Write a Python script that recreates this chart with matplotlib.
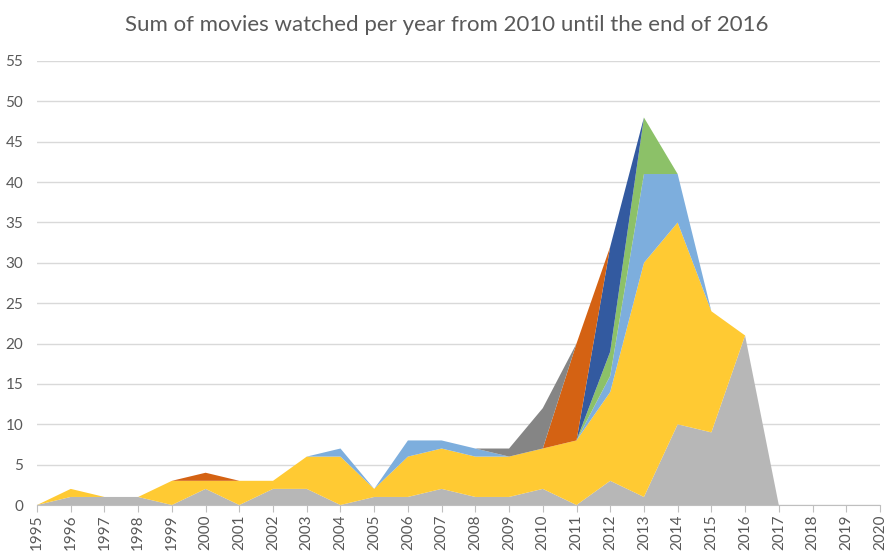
import numpy as np
import matplotlib.pyplot as plt

plt.rcParams['font.family'] = ['Lato', 'DejaVu Sans']

# release year on the x axis, one stacked layer per series (bottom to top)
years = list(range(1995, 2021))

gray_layer   = [0, 1, 1, 1, 0, 2, 0, 2, 2, 0, 1, 1, 2, 1, 1, 2, 0, 3, 1, 10, 9, 21, 0, 0, 0, 0]
yellow_layer = [0, 1, 0, 0, 3, 1, 3, 1, 4, 6, 1, 5, 5, 5, 5, 5, 8, 11, 29, 25, 15, 0, 0, 0, 0, 0]
ltblue_layer = [0, 0, 0, 0, 0, 0, 0, 0, 0, 1, 0, 2, 1, 1, 0, 0, 0, 2, 11, 6, 0, 0, 0, 0, 0, 0]
green_layer  = [0, 0, 0, 0, 0, 0, 0, 0, 0, 0, 0, 0, 0, 0, 0, 0, 0, 3, 7, 0, 0, 0, 0, 0, 0, 0]
dkblue_layer = [0, 0, 0, 0, 0, 0, 0, 0, 0, 0, 0, 0, 0, 0, 0, 0, 0, 13, 0, 0, 0, 0, 0, 0, 0, 0]
orange_layer = [0, 0, 0, 0, 0, 1, 0, 0, 0, 0, 0, 0, 0, 0, 0, 0, 12, 0, 0, 0, 0, 0, 0, 0, 0, 0]
dkgray_layer = [0, 0, 0, 0, 0, 0, 0, 0, 0, 0, 0, 0, 0, 0, 1, 5, 0, 0, 0, 0, 0, 0, 0, 0, 0, 0]

colors = ["#b7b7b7", "#ffca33", "#7daedd", "#8cc168", "#335aa0", "#d46213", "#858585"]

fig = plt.figure(figsize=(8.94, 5.52), dpi=100)
ax = fig.add_axes([0.0414, 0.0851, 0.9429, 0.8044])

ax.stackplot(years, gray_layer, yellow_layer, ltblue_layer, green_layer,
             dkblue_layer, orange_layer, dkgray_layer,
             colors=colors, linewidth=0)

ax.set_xlim(1995, 2020)
ax.set_ylim(0, 55)
ax.set_yticks(range(0, 56, 5))
ax.set_xticks(years)
ax.set_xticklabels([str(y) for y in years], rotation=90)

ax.grid(axis="y", color="#d9d9d9", linewidth=1)
ax.set_axisbelow(True)
for side in ["top", "right", "left"]:
    ax.spines[side].set_visible(False)
ax.spines["bottom"].set_color("#bfbfbf")
ax.tick_params(axis="y", length=0, pad=10, labelsize=11, labelcolor="#595959")
ax.tick_params(axis="x", length=5, color="#bfbfbf", pad=2, labelsize=11, labelcolor="#595959")

fig.text(0.5, 0.955, "Sum of movies watched per year from 2010 until the end of 2016",
         ha="center", va="center", fontsize=16, color="#595959")

fig.savefig("out.png")
